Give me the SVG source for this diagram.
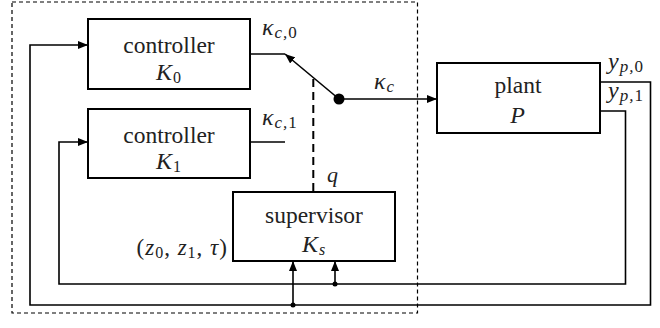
<svg xmlns="http://www.w3.org/2000/svg" width="660" height="328" viewBox="0 0 660 328">
<style>
.box{fill:#fff;stroke:#000;stroke-width:2}
.ln{fill:none;stroke:#000;stroke-width:1.6}
.t{font-family:"Liberation Serif","DejaVu Serif",serif;font-size:23.5px;text-anchor:middle;fill:#222}
.m{font-family:"Liberation Serif","DejaVu Serif",serif;font-style:italic;fill:#222;letter-spacing:1px}
</style>
<defs>
<marker id="ah" viewBox="0 0 10 8" refX="10" refY="4" markerWidth="10" markerHeight="8" markerUnits="userSpaceOnUse" orient="auto">
<path d="M0,0 L10,4 L0,8 z" fill="#000"/>
</marker>
</defs>
<rect x="12" y="2" width="405.5" height="311" fill="none" stroke="#000" stroke-width="1.2" stroke-dasharray="4,3"/>
<g id="connectors">
<path class="ln" d="M250,54 H285"/>
<path class="ln" d="M250,142 H285"/>
<path class="ln" d="M339,99 L285,54" marker-end="url(#ah)"/>
<path class="ln" d="M339,99 H437" marker-end="url(#ah)"/>
<path class="ln" d="M600,82 H650.5 V305 H30 V45 H88" marker-end="url(#ah)"/>
<path class="ln" d="M600,111 H625.5 V284 H59 V142 H88" marker-end="url(#ah)"/>
<path class="ln" d="M293,305 V261" marker-end="url(#ah)"/>
<path class="ln" d="M335,284 V261" marker-end="url(#ah)"/>
<circle cx="293" cy="305" r="2.5"/>
<circle cx="335" cy="284" r="2.5"/>
<circle cx="339" cy="99" r="5.5"/>
<path d="M313.3,79 V192" fill="none" stroke="#000" stroke-width="2" stroke-dasharray="8,5"/>
</g>
<g id="controller0">
<rect class="box" x="88" y="19" width="162" height="70"/>
<text class="t" x="169" y="53">controller</text>
<text class="m" x="169" y="80" font-size="24" text-anchor="middle">K<tspan font-style="normal" font-size="16" dy="3">0</tspan></text>
</g>
<g id="controller1">
<rect class="box" x="88" y="109" width="162" height="69"/>
<text class="t" x="169" y="143">controller</text>
<text class="m" x="169" y="169" font-size="24" text-anchor="middle">K<tspan font-style="normal" font-size="16" dy="3">1</tspan></text>
</g>
<g id="plant">
<rect class="box" x="437" y="63" width="163" height="70"/>
<text class="t" x="518" y="93">plant</text>
<text class="m" x="518" y="123" font-size="24" text-anchor="middle">P</text>
</g>
<g id="supervisor">
<rect class="box" x="233" y="192" width="162" height="69"/>
<text class="t" x="314" y="223">supervisor</text>
<text class="m" x="314" y="252" font-size="24" text-anchor="middle">K<tspan font-size="16" dy="3">s</tspan></text>
</g>
<g id="labels">
<text class="m" x="262" y="35" font-size="24">κ<tspan font-size="17" dy="3">c,</tspan><tspan font-style="normal" font-size="17">0</tspan></text>
<text class="m" x="262" y="125" font-size="24">κ<tspan font-size="17" dy="3">c,</tspan><tspan font-style="normal" font-size="17">1</tspan></text>
<text class="m" x="374" y="89" font-size="24">κ<tspan font-size="17" dy="3">c</tspan></text>
<text class="m" x="608" y="69" font-size="24">y<tspan font-size="17" dy="3">p,</tspan><tspan font-style="normal" font-size="17">0</tspan></text>
<text class="m" x="608" y="98" font-size="24">y<tspan font-size="17" dy="3">p,</tspan><tspan font-style="normal" font-size="17">1</tspan></text>
<text class="m" x="327" y="182" font-size="22">q</text>
<text class="m" x="228" y="255" font-size="23" text-anchor="end"><tspan font-style="normal">(</tspan>z<tspan font-style="normal" font-size="16" dy="3">0</tspan><tspan font-style="normal" dy="-3">, </tspan>z<tspan font-style="normal" font-size="16" dy="3">1</tspan><tspan font-style="normal" dy="-3">, </tspan>τ<tspan font-style="normal">)</tspan></text>
</g>
</svg>
